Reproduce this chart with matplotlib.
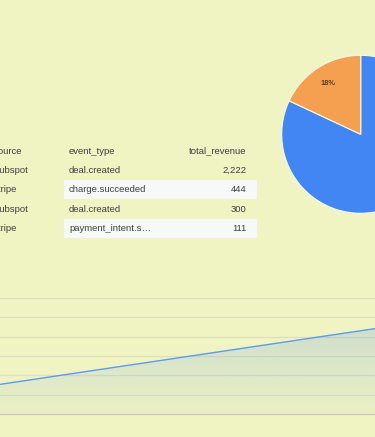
import matplotlib
matplotlib.use("Agg")
import matplotlib.pyplot as plt
import numpy as np
from matplotlib.patches import Rectangle

plt.rcParams['font.family'] = ['Liberation Sans', 'DejaVu Sans']

# ---------------- data ----------------
table_columns = ["source", "event_type", "total_revenue"]
table_source = ["hubspot", "stripe", "hubspot", "stripe"]
table_event = ["deal.created", "charge.succeeded", "deal.created", "payment_intent.succeeded"]
table_revenue = [2222, 444, 300, 111]

pie_sources = ["hubspot", "stripe"]
pie_values = [sum(r for s, r in zip(table_source, table_revenue) if s == src) for src in pie_sources]

area_x = [0, 1]
area_y = [770, 2205]
area_yticks = [0, 500, 1000, 1500, 2000, 2500, 3000]

# ---------------- style ----------------
BG = "#f0f4c3"
TXT = "#3f3f3f"
BLUE = "#4286f4"
ORANGE = "#f59f50"
W, H = 375, 437
DPI = 100

fig = plt.figure(figsize=(W / DPI, H / DPI), dpi=DPI, facecolor=BG)

def px_axes(x0, y0, x1, y1):
    """axes from pixel box (top-left origin)"""
    return fig.add_axes([x0 / W, (H - y1) / H, (x1 - x0) / W, (y1 - y0) / H])

# ---------------- table ----------------
tax = px_axes(0, 140, 270, 245)
tax.set_xlim(0, 270)
tax.set_ylim(245, 140)
tax.axis("off")
tax.patch.set_alpha(0)

fs = 6.8
header_y = 151
row_y0 = 170.5
row_h = 19.3
col1_x, col2_x, col3_x = -6, 69, 246.5

tax.text(col1_x, header_y, table_columns[0], ha="left", va="center", fontsize=fs, color=TXT, clip_on=True)
tax.text(col2_x, header_y, table_columns[1], ha="left", va="center", fontsize=fs, color=TXT)
tax.text(col3_x, header_y, table_columns[2], ha="right", va="center", fontsize=fs, color=TXT)

def trunc(s, n=16):
    return s if len(s) <= n else s[:n] + "\u2026"

for i, (src, ev, rev) in enumerate(zip(table_source, table_event, table_revenue)):
    y = row_y0 + i * row_h
    if i % 2 == 1:
        tax.add_patch(Rectangle((64, y - row_h / 2), 193, row_h, facecolor="#f7f9f9",
                                edgecolor="none", zorder=0))
    tax.text(col1_x, y, src, ha="left", va="center", fontsize=fs, color=TXT, clip_on=True)
    tax.text(col2_x, y, trunc(ev), ha="left", va="center", fontsize=fs, color=TXT)
    tax.text(col3_x, y, f"{rev:,}", ha="right", va="center", fontsize=fs, color=TXT)

# ---------------- pie ----------------
cx, cy, r = 360.7, 134.3, 79
pax = px_axes(cx - r, cy - r, cx + r, cy + r)
wedges, texts, autotexts = pax.pie(
    pie_values, colors=[BLUE, ORANGE], startangle=90, counterclock=False,
    autopct="%1.0f%%", pctdistance=0.76,
    wedgeprops=dict(edgecolor="#f7f9e6", linewidth=0.8),
    textprops=dict(fontsize=5.4, color="#5a4128", fontweight="bold"))
pax.set_xlim(-1, 1)
pax.set_ylim(-1, 1)
pax.set_aspect("auto")
pax.axis("off")

# ---------------- area chart ----------------
aax = px_axes(0, 297.7, 375, 414.3)
aax.set_xlim(area_x[0], area_x[-1])
aax.set_ylim(area_yticks[0], area_yticks[-1])
aax.patch.set_alpha(0)
for s in aax.spines.values():
    s.set_visible(False)
aax.set_xticks([])
aax.set_yticks([])
for t in area_yticks[1:]:
    aax.axhline(t, color="#dde0c0", linewidth=0.9, zorder=1, clip_on=False)
aax.axhline(area_yticks[0], color="#c9cbc4", linewidth=1.0, zorder=3, clip_on=False)

poly = aax.fill_between(area_x, area_y, 0, color="none", zorder=2)
grad = np.zeros((256, 1, 4))
rgb = matplotlib.colors.to_rgb(BLUE)
grad[..., 0], grad[..., 1], grad[..., 2] = rgb
grad[:, 0, 3] = np.linspace(0.03, 0.19, 256)
im = aax.imshow(grad, extent=[area_x[0], area_x[-1], 0, max(area_y)], origin="lower",
                aspect="auto", zorder=2, interpolation="bilinear")
im.set_clip_path(poly.get_paths()[0], transform=aax.transData)
aax.set_xlim(area_x[0], area_x[-1])
aax.set_ylim(area_yticks[0], area_yticks[-1])
aax.plot(area_x, area_y, color="#5b9bf0", linewidth=1.0, zorder=4, clip_on=False)

fig.savefig("out.png", dpi=DPI, facecolor=BG)
